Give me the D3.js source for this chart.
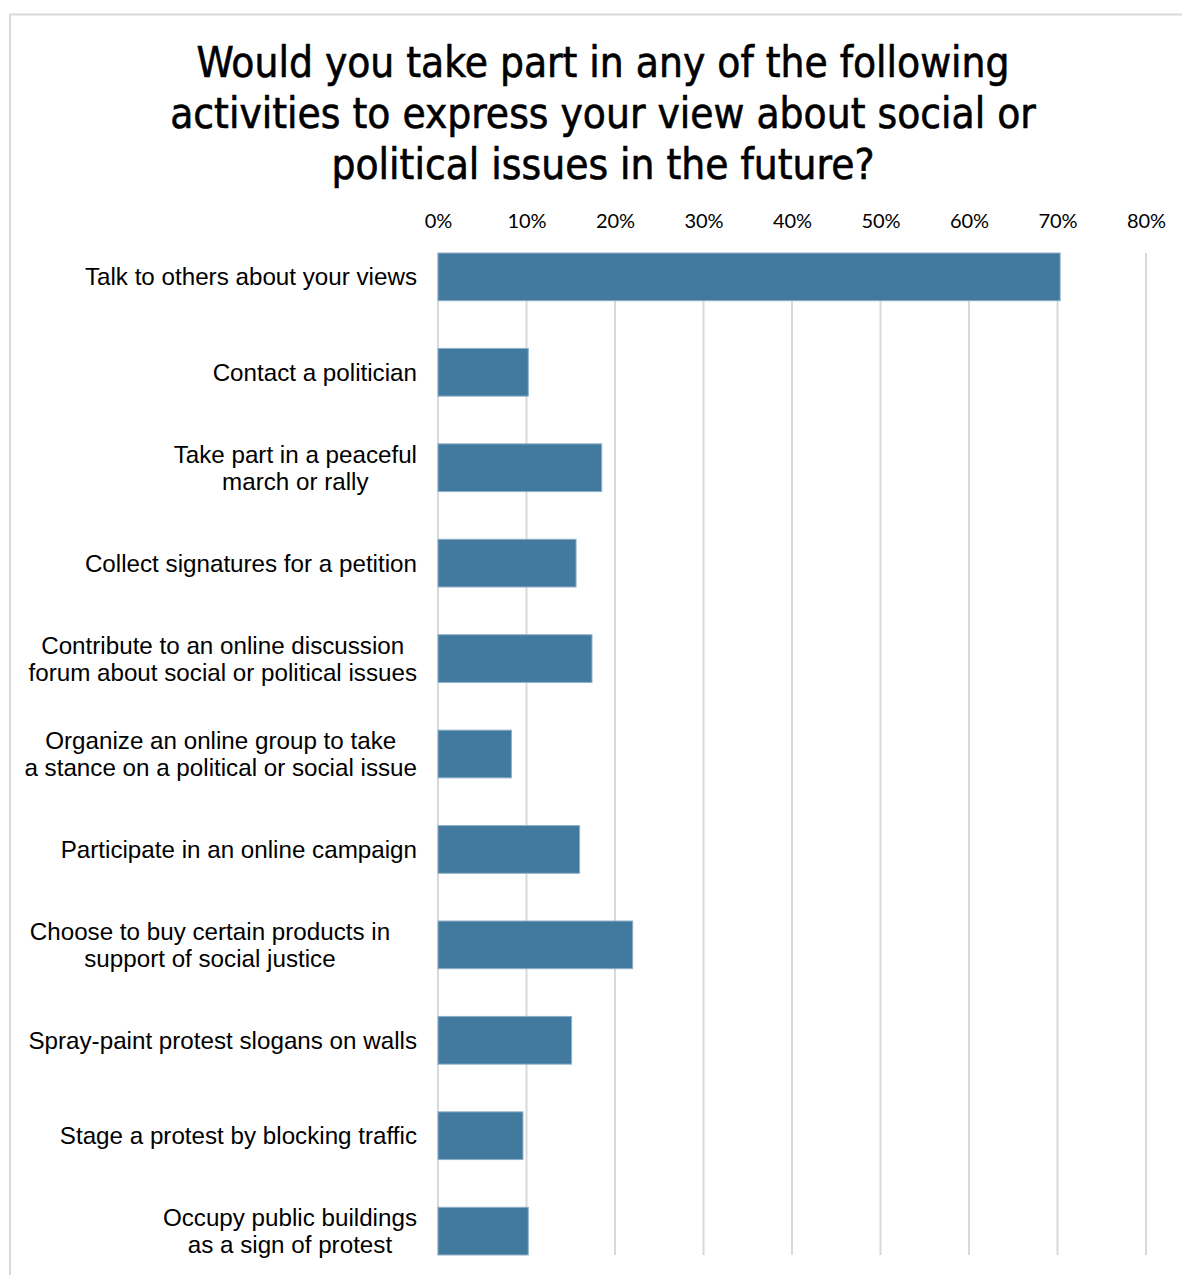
<!DOCTYPE html>
<html>
<head>
<meta charset="utf-8">
<script src="https://cdn.jsdelivr.net/npm/d3@7"></script>
<style>
  html, body { margin: 0; padding: 0; background: #ffffff; }
  svg { display: block; }
</style>
</head>
<body>
<svg id="chart" width="1182" height="1275"></svg>
<script>
// Survey activities, each as the lines its label wraps onto
const categoryLines = [
  ["Talk to others about your views"],
  ["Contact a politician"],
  ["Take part in a peaceful", "march or rally"],
  ["Collect signatures for a petition"],
  ["Contribute to an online discussion", "forum about social or political issues"],
  ["Organize an online group to take", "a stance on a political or social issue"],
  ["Participate in an online campaign"],
  ["Choose to buy certain products in    ", "support of social justice    "],
  ["Spray-paint protest slogans on walls"],
  ["Stage a protest by blocking traffic"],
  ["Occupy public buildings", "as a sign of protest"]
];
// Share of respondents who would take part
const shares = [0.703, 0.102, 0.185, 0.156, 0.174, 0.083, 0.160, 0.220, 0.151, 0.096, 0.102];
// Axis ticks
const tickValues = [0, 0.1, 0.2, 0.3, 0.4, 0.5, 0.6, 0.7, 0.8];
const titleLines = [
  "Would you take part in any of the following",
  "activities to express your view about social or",
  "political issues in the future?"
];

const svg = d3.select("#chart");
const keys = categoryLines.map(d => d.join(" ").trim());

const x = d3.scaleLinear().domain([0, 0.8]).range([438, 1146]);
const y = d3.scaleBand().domain(keys).range([253, 1255]).paddingInner(0.5).paddingOuter(0);

// Chart frame
svg.append("path")
  .attr("d", "M10,1275 V14.5 H1182")
  .attr("fill", "none")
  .attr("stroke", "#d9d9d9")
  .attr("stroke-width", 2);

// Title
svg.append("g")
  .selectAll("text")
  .data(titleLines)
  .join("text")
  .attr("x", 603)
  .attr("y", (d, i) => 77 + i * 51)
  .attr("text-anchor", "middle")
  .attr("font-family", "'DejaVu Sans Condensed', 'DejaVu Sans', sans-serif")
  .attr("font-stretch", "condensed")
  .attr("font-size", 42)
  .attr("fill", "#000")
  .attr("stroke", "#000")
  .attr("stroke-width", 0.6)
  .text(d => d);

// Gridlines
svg.append("g")
  .selectAll("line")
  .data(tickValues)
  .join("line")
  .attr("x1", d => x(d)).attr("x2", d => x(d))
  .attr("y1", y.range()[0]).attr("y2", y.range()[1])
  .attr("stroke", "#d9d9d9")
  .attr("stroke-width", 2);

// Top axis labels
const axis = d3.axisTop(x).tickValues(tickValues).tickFormat(d3.format(".0%")).tickSize(0).tickPadding(0);
const axisG = svg.append("g").attr("transform", "translate(0,228)").call(axis);
axisG.select(".domain").remove();
axisG.selectAll("text")
  .attr("dy", 0)
  .attr("font-family", "Lato, 'Open Sans', sans-serif")
  .attr("font-size", 20)
  .attr("fill", "#000");

// Bars
svg.append("g")
  .selectAll("rect")
  .data(keys)
  .join("rect")
  .attr("x", x(0))
  .attr("y", d => y(d))
  .attr("width", (d, i) => x(shares[i]) - x(0))
  .attr("height", y.bandwidth())
  .attr("fill", "#41799f")
  .attr("stroke", "#8fb1ca")
  .attr("stroke-width", 1);

// Category labels: lines centred on each other, block ending left of the axis
const lineH = 27;
const labelRight = 417;
const labelG = svg.append("g")
  .attr("font-family", "'Liberation Sans', Arial, sans-serif")
  .attr("font-size", 24.2)
  .attr("fill", "#000");

categoryLines.forEach((lines, i) => {
  const cy = y(keys[i]) + y.bandwidth() / 2;
  const t = labelG.append("text")
    .attr("text-anchor", "middle")
    .style("white-space", "pre");
  const spans = t.selectAll("tspan")
    .data(lines)
    .join("tspan")
    .attr("y", (d, j) => cy + (j - (lines.length - 1) / 2) * lineH)
    .attr("dy", "0.35em")
    .text(d => d);
  const maxW = d3.max(spans.nodes(), n => n.getComputedTextLength());
  spans.attr("x", labelRight - maxW / 2);
});
</script>
</body>
</html>
